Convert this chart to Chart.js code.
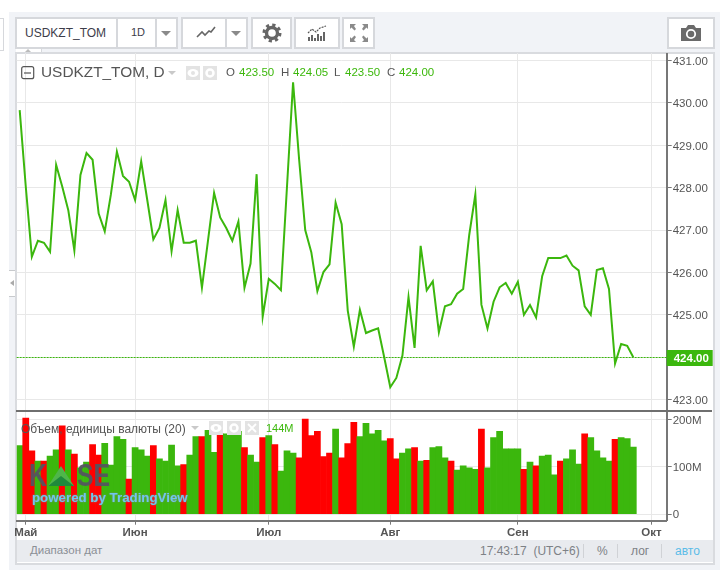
<!DOCTYPE html>
<html>
<head>
<meta charset="utf-8">
<script src="https://cdn.jsdelivr.net/npm/chart.js@4"></script>
<style>
html, body { margin: 0; padding: 0; background: #fff; }
body { width: 720px; height: 570px; position: relative; overflow: hidden; font-family: "Liberation Sans", Arial, sans-serif; }
.abs { position: absolute; }
canvas { position: absolute; left: 0; }
#frame { left: 9px; top: 12px; width: 711px; height: 558px; background: #f1f3f7; }
#panel { left: 15px; top: 52px; width: 696px; height: 509px; background: #fff; border: 2px solid #d9dbdf; }
.btn { position: absolute; top: 17px; height: 28px; background: #fff; border: 2px solid #d6d8dc; box-sizing: content-box; }
.sep { position: absolute; top: 0; bottom: 0; width: 2px; background: #d6d8dc; }
.caret { position: absolute; top: 12px; width: 0; height: 0; border-left: 5px solid transparent; border-right: 5px solid transparent; border-top: 5px solid #8a8a8a; }
.txt { position: absolute; white-space: nowrap; }
.gr { color: #3cb80c; font-size: 11.5px; }
.lbl { color: #555; font-size: 11.5px; }
.mini { position: absolute; width: 14px; height: 14px; background: #e3e3e3; }
#status { left: 17px; top: 540px; width: 696px; height: 22px; background: #e9ebef; }
.vsep { position: absolute; top: 4px; height: 14px; width: 1px; background: #d0d2d6; }
</style>
</head>
<body>
<div class="abs" id="frame"></div>
<div class="abs" style="left:0;top:18px;width:3px;height:31px;border:1px solid #d6d8dc;border-left:0;"></div>
<div class="abs" id="panel"></div>

<canvas id="priceChart" style="top:53px" width="720" height="358"></canvas>
<canvas id="volChart" style="top:412px" width="720" height="128"></canvas>
<div class="abs" style="left:16px;top:410px;width:696px;height:2px;background:#6f6f6f;"></div>

<!-- left tab -->
<div class="abs" style="left:9px;top:270px;width:6px;height:25px;background:#fff;border-top:1px solid #c8cacd;border-bottom:1px solid #c8cacd;"></div>
<div class="abs" style="left:10px;top:280px;width:0;height:0;border-top:3px solid transparent;border-bottom:3px solid transparent;border-right:4px solid #aaa;"></div>
<!-- top tab -->
<div class="abs" style="left:16px;top:47px;width:25px;height:5px;background:#fff;border-right:1px solid #d6d8dc;"></div>
<div class="abs" style="left:25px;top:49px;width:0;height:0;border-left:3px solid transparent;border-right:3px solid transparent;border-bottom:3px solid #bbb;"></div>

<!-- toolbar -->
<div class="btn" style="left:15px;width:159px;">
  <div class="txt" style="left:8px;top:7px;font-size:12px;color:#3d3d4a;">USDKZT_TOM</div>
  <div class="sep" style="left:99px"></div>
  <div class="txt" style="left:114px;top:7px;font-size:11px;color:#3d3d4a;">1D</div>
  <div class="sep" style="left:138px"></div>
  <div class="caret" style="left:144px"></div>
</div>
<div class="btn" style="left:181px;width:63px;">
  <svg class="abs" style="left:13px;top:6px" width="20" height="14"><polyline points="1,12 6,7 9,10 13,6 15,7 19,2" fill="none" stroke="#666" stroke-width="1.6"/></svg>
  <div class="sep" style="left:42px"></div>
  <div class="caret" style="left:48px"></div>
</div>
<div class="btn" style="left:251px;width:37px;">
  <svg class="abs" style="left:9px;top:4px" width="20" height="20"><circle cx="10" cy="10" r="5.5" fill="none" stroke="#666" stroke-width="3.4"/><circle cx="10" cy="10" r="8" fill="none" stroke="#666" stroke-width="3" stroke-dasharray="3.2 3.08"/></svg>
</div>
<div class="btn" style="left:294px;width:42px;">
  <svg class="abs" style="left:11px;top:6px" width="20" height="18"><path d="M2 16v-4M5 16v-6M8 16v-3M11 16v-7M14 16v-5M17 16v-9" stroke="#555" stroke-width="1.8"/><polyline points="1,8 5,4 9,7 13,3 19,1" fill="none" stroke="#555" stroke-width="1.2" stroke-dasharray="2 1"/></svg>
</div>
<div class="btn" style="left:342px;width:29px;">
  <svg class="abs" style="left:6px;top:5px" width="18" height="18" fill="#8a8a8a"><path d="M0 0h6l-2 2 2 3-1.500 1.500-3-3-1.500 1.500zM18 0h-6l2 2-2 3 1.500 1.500 3-3 1.500 1.500zM0 18h6l-2-2 2-3-1.500-1.500-3 3-1.500-1.500zM18 18h-6l2-2-2-3 1.500-1.500 3 3 1.500-1.500z"/></svg>
</div>
<div class="btn" style="left:667px;width:44px;">
  <svg class="abs" style="left:11px;top:5px" width="22" height="18"><path d="M1 4h5l2-3h6l2 3h5v13H1z" fill="#6a6a6a"/><circle cx="11" cy="10" r="4.200" fill="none" stroke="#fff" stroke-width="1.800"/></svg>
</div>

<!-- price legend -->
<svg class="abs" style="left:21px;top:66px" width="14" height="14"><rect x="0.7" y="0.7" width="12" height="12" rx="2" fill="none" stroke="#555" stroke-width="1.200"/><path d="M3 7h7" stroke="#555" stroke-width="1.200"/></svg>
<div class="txt" style="left:41px;top:63px;font-size:15.4px;color:#555;">USDKZT_TOM, D</div>
<div class="abs" style="left:168px;top:71px;width:0;height:0;border-left:4px solid transparent;border-right:4px solid transparent;border-top:4px solid #c9c9c9;"></div>
<div class="mini" style="left:186px;top:66px;"><svg width="14" height="14"><ellipse cx="7" cy="7" rx="5.500" ry="4" fill="#fff"/><circle cx="7" cy="7" r="2" fill="#e3e3e3"/></svg></div>
<div class="mini" style="left:203px;top:66px;"><svg width="14" height="14"><circle cx="7" cy="7" r="3.500" fill="none" stroke="#fff" stroke-width="2.500"/></svg></div>
<div class="txt lbl" style="left:226px;top:66px;">O</div>
<div class="txt gr" style="left:239px;top:66px;">423.50</div>
<div class="txt lbl" style="left:281px;top:66px;">H</div>
<div class="txt gr" style="left:293px;top:66px;">424.05</div>
<div class="txt lbl" style="left:334px;top:66px;">L</div>
<div class="txt gr" style="left:345px;top:66px;">423.50</div>
<div class="txt lbl" style="left:387px;top:66px;">C</div>
<div class="txt gr" style="left:399px;top:66px;">424.00</div>

<!-- volume legend -->
<div class="txt" style="left:21px;top:422px;font-size:12px;color:#555;">Объем, единицы валюты (20)</div>
<div class="abs" style="left:191px;top:426px;width:0;height:0;border-left:4px solid transparent;border-right:4px solid transparent;border-top:4px solid #c9c9c9;"></div>
<div class="mini" style="left:209px;top:421px;"><svg width="14" height="14"><ellipse cx="7" cy="7" rx="5.500" ry="4" fill="#fff"/><circle cx="7" cy="7" r="2" fill="#e3e3e3"/></svg></div>
<div class="mini" style="left:227px;top:421px;"><svg width="14" height="14"><circle cx="7" cy="7" r="3.500" fill="none" stroke="#fff" stroke-width="2.500"/></svg></div>
<div class="mini" style="left:245px;top:421px;"><svg width="14" height="14"><path d="M3 3L11 11M11 3L3 11" stroke="#fff" stroke-width="1.800"/></svg></div>
<div class="txt gr" style="left:266px;top:422px;font-size:11px;">144M</div>

<!-- logo -->
<div class="txt" style="left:29px;top:458px;font-size:31px;font-weight:bold;color:#555560;opacity:.95;transform:scaleX(.8);transform-origin:left;">K</div>
<svg class="abs" style="left:48px;top:466px" width="26" height="21"><path d="M13 0L26 20H0z" fill="#4fb64a"/><path d="M13 10L26 20H0z" fill="#1f8a3c"/></svg>
<div class="txt" style="left:77px;top:458px;font-size:31px;font-weight:bold;color:#555560;opacity:.95;transform:scaleX(.8);transform-origin:left;">SE</div>
<div class="txt" style="left:32px;top:490px;font-size:13.300px;font-weight:bold;color:#6fc7ee;text-shadow:0 0 2px #888;">powered by TradingView</div>

<!-- status bar -->
<div class="abs" id="status">
  <div class="txt" style="left:13px;top:4px;font-size:11.5px;color:#8b8f96;">Диапазон дат</div>
  <div class="txt" style="left:463px;top:4px;font-size:12px;color:#7d8186;">17:43:17&nbsp; (UTC+6)</div>
  <div class="vsep" style="left:566px"></div>
  <div class="txt" style="left:580px;top:4px;font-size:12px;color:#7d8186;">%</div>
  <div class="vsep" style="left:600px"></div>
  <div class="txt" style="left:614px;top:4px;font-size:12px;color:#7d8186;">лог</div>
  <div class="vsep" style="left:644px"></div>
  <div class="txt" style="left:658px;top:4px;font-size:12px;color:#5bbce8;">авто</div>
</div>

<script>
// Closing prices
const closes = [
  429.83, 428.03, 426.37, 426.75, 426.70, 426.49, 428.54, 428.03, 427.47, 426.52,
  428.30, 428.82, 428.66, 427.39, 426.97, 427.83, 428.85, 428.28, 428.14, 427.71,
  428.62, 427.71, 426.78, 427.05, 427.71, 426.50, 427.47, 426.70, 426.70, 426.75,
  425.64, 426.76, 427.88, 427.30, 427.05, 426.75, 427.20, 425.64, 426.21, 428.32,
  424.96, 425.85, 425.73, 425.58, 428.03, 430.49, 428.66, 427.00, 426.48, 425.56,
  426.01, 426.19, 427.65, 427.14, 425.10, 424.25, 425.12, 424.57, 424.63, 424.68,
  424.00, 423.29, 423.51, 424.04, 425.42, 424.22, 426.63, 425.58, 425.79, 424.59,
  425.20, 425.25, 425.50, 425.61, 426.89, 427.84, 425.24, 424.68, 425.31, 425.65,
  425.75, 425.50, 425.78, 425.00, 425.23, 424.94, 425.91, 426.34, 426.34, 426.34,
  426.40, 426.16, 426.05, 425.20, 425.00, 426.06, 426.10, 425.61, 423.85, 424.31,
  424.27, 424.00
];

// Volumes in millions
const volumes = [
  145, 203, 134, 112, 112, 123, 136, 187, 136, 127,
  98, 110, 147, 125, 150, 104, 164, 158, 74, 141,
  136, 123, 145, 117, 112, 146, 102, 105, 125, 164,
  164, 177, 131, 170, 170, 196, 175, 141, 125, 110,
  162, 166, 147, 91, 134, 129, 119, 201, 166, 175,
  122, 129, 180, 119, 149, 194, 164, 192, 170, 177,
  155, 160, 117, 129, 138, 141, 112, 114, 141, 143,
  119, 112, 93, 102, 98, 95, 180, 98, 162, 175,
  138, 138, 138, 95, 110, 102, 123, 125, 83, 112,
  117, 136, 106, 170, 162, 134, 119, 112, 158, 162,
  160, 142
];

// Which bars are red
const redBars = [1, 2, 4, 7, 9, 12, 13, 18, 22, 27, 30, 33, 37, 40, 42, 46, 47, 48, 49, 50, 51,
  53, 54, 55, 61, 62, 65, 67, 71, 76, 83, 85, 89, 93, 98];

const monthNames = ['Май', 'Июн', 'Июл', 'Авг', 'Сен', 'Окт'];
const monthSlots = [1, 19, 41, 61, 82, 104];
const priceTicks = [423, 424, 425, 426, 427, 428, 429, 430, 431];
const volumeTicks = [0, 100, 200];
const lastPrice = 424;
const slotCount = 107; // bar slots across the plot, some empty on the right

const GREEN = '#3bb70d';
const RED = '#ff0000';
const GRID = '#e8e8e8';
const AXIS = '#777777';
const TEXT = '#555555';
const FONT = '"Liberation Sans", Arial, sans-serif';

const slotLabels = [];
for (let i = 0; i < slotCount; i++) {
    const m = monthSlots.indexOf(i);
    slotLabels.push(m >= 0 ? monthNames[m] : '');
}

function keepMonths(scale) {
    scale.ticks = scale.ticks.filter(t => monthSlots.includes(t.value));
}

function fixedTicks(list) {
    return function(scale) {
        scale.ticks = list.map(v => ({ value: v }));
    };
}

// Fixed axis width, and no room reserved for half of the end labels
function fitYAxis(scale) {
    scale.width = 46;
    scale.paddingTop = 0;
    scale.paddingBottom = 0;
}

// Dotted last price line and the green box on the axis
const lastPricePlugin = {
    id: 'lastPrice',
    afterDraw(chart) {
        const y = Math.round(chart.scales.y.getPixelForValue(lastPrice));
        const area = chart.chartArea;
        const ctx = chart.ctx;
        ctx.save();
        ctx.strokeStyle = GREEN;
        ctx.lineWidth = 1;
        ctx.setLineDash([2, 1]);
        ctx.beginPath();
        ctx.moveTo(area.left, y + 0.5);
        ctx.lineTo(area.right, y + 0.5);
        ctx.stroke();
        ctx.setLineDash([]);
        ctx.fillStyle = GREEN;
        ctx.fillRect(area.right, y - 7, 46, 16);
        ctx.fillStyle = '#fff';
        ctx.font = 'bold 11.5px ' + FONT;
        ctx.textBaseline = 'middle';
        ctx.fillText(lastPrice.toFixed(2), area.right + 7, y + 1.5);
        ctx.restore();
    }
};

const priceChart = new Chart(document.getElementById('priceChart'), {
    type: 'line',
    data: {
        labels: slotLabels,
        datasets: [{
            data: closes,
            borderColor: GREEN,
            borderWidth: 2,
            pointRadius: 0,
            tension: 0,
            fill: false
        }]
    },
    options: {
        responsive: false,
        animation: false,
        layout: { padding: { left: 16.65, right: 7.3, top: 0, bottom: 0 } },
        plugins: { legend: { display: false }, tooltip: { enabled: false } },
        scales: {
            x: {
                offset: true,
                afterBuildTicks: keepMonths,
                afterFit(scale) { scale.height = 0; },
                grid: { color: GRID, drawTicks: false, offset: false },
                border: { display: false },
                ticks: { display: false, autoSkip: false }
            },
            y: {
                position: 'right',
                min: 422.73,
                max: 431.18,
                afterBuildTicks: fixedTicks(priceTicks),
                afterFit: fitYAxis,
                grid: { color: GRID, tickColor: AXIS, tickLength: 5 },
                border: { color: AXIS, width: 2 },
                ticks: {
                    color: TEXT,
                    font: { family: FONT, size: 11.5 },
                    padding: 1,
                    labelOffset: 1,
                    callback: v => v.toFixed(2)
                }
            }
        }
    },
    plugins: [lastPricePlugin]
});

const volChart = new Chart(document.getElementById('volChart'), {
    type: 'bar',
    data: {
        labels: slotLabels,
        datasets: [{
            data: volumes,
            backgroundColor: volumes.map((v, i) => redBars.includes(i) ? RED : GREEN),
            barPercentage: 1,
            categoryPercentage: 1
        }]
    },
    options: {
        responsive: false,
        animation: false,
        layout: { padding: { left: 16.65, right: 7.3, top: 0, bottom: 0 } },
        plugins: { legend: { display: false }, tooltip: { enabled: false } },
        scales: {
            x: {
                afterBuildTicks: keepMonths,
                afterFit(scale) { scale.height = 19.3; },
                grid: { color: GRID, tickColor: AXIS, tickLength: 4, offset: false },
                border: { color: AXIS, width: 2 },
                ticks: {
                    color: TEXT,
                    autoSkip: false,
                    maxRotation: 0,
                    padding: 1,
                    font: { family: FONT, size: 11.5, weight: 'bold' },
                    callback: function(v) { return this.getLabelForValue(v); }
                }
            },
            y: {
                position: 'right',
                min: -13.8,
                max: 216,
                afterBuildTicks: fixedTicks(volumeTicks),
                afterFit: fitYAxis,
                grid: { color: GRID, tickColor: AXIS, tickLength: 5 },
                border: { color: AXIS, width: 2 },
                ticks: {
                    color: TEXT,
                    font: { family: FONT, size: 11.5 },
                    padding: 1,
                    labelOffset: 1,
                    callback: v => v === 0 ? '0' : v + 'M'
                }
            }
        }
    }
});
</script>
</body>
</html>
